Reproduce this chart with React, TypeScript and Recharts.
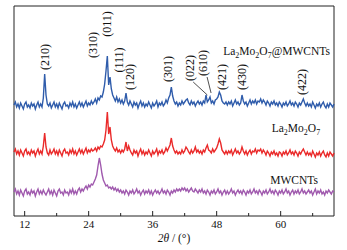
import React from "react";
import { LineChart, Line, XAxis, YAxis, ReferenceArea, ReferenceDot, ReferenceLine } from "recharts";

// 2θ sampling: 10° to 70° every 0.25°
const startAngle = 10;
const stepAngle = 0.25;

// intensities (stacked, arbitrary units)
const composite = [
  111, 114, 109, 112, 108, 113, 110, 107, 112, 114, 109, 111, 108, 113, 110, 112, 107, 111, 114, 109,
  112, 109, 118, 142, 121, 112, 110, 113, 108, 111, 114, 109, 112, 108, 113, 110, 107, 112, 114, 110,
  111, 108, 113, 110, 114, 109, 112, 108, 111, 114, 110, 113, 109, 112, 115, 110, 113, 111, 115, 112,
  114, 117, 113, 118, 116, 120, 119, 124, 132, 145, 160, 131, 139, 127, 121, 118, 115, 119, 114, 117,
  113, 116, 112, 115, 123, 114, 111, 115, 112, 109, 114, 111, 113, 108, 112, 115, 110, 113, 109, 112,
  110, 114, 111, 108, 113, 110, 112, 115, 109, 113, 111, 114, 110, 112, 116, 113, 118, 121, 129, 120,
  115, 112, 114, 110, 113, 111, 115, 112, 114, 116, 117, 113, 111, 115, 112, 114, 110, 113, 115, 112,
  114, 111, 115, 113, 121, 114, 116, 119, 113, 115, 112, 116, 117, 119, 124, 121, 115, 113, 112, 114,
  111, 114, 112, 115, 110, 113, 116, 112, 114, 111, 113, 121, 115, 112, 114, 110, 113, 116, 112, 115,
  113, 116, 112, 115, 114, 117, 113, 116, 114, 111, 115, 113, 110, 114, 112, 115, 111, 113, 110, 114,
  112, 109, 113, 111, 114, 110, 112, 115, 111, 113, 110, 114, 112, 109, 113, 111, 114, 117, 113, 110,
  113, 110, 112, 109, 114, 111, 108, 112, 110, 113, 109, 112, 114, 110, 108, 112, 109, 113, 111, 109,
  112,
];

const pure = [
  64, 67, 62, 65, 61, 66, 63, 60, 65, 67, 62, 64, 61, 66, 63, 65, 60, 64, 67, 62,
  65, 62, 70, 83, 69, 63, 61, 66, 62, 64, 67, 62, 65, 61, 66, 63, 60, 65, 67, 63,
  64, 61, 66, 63, 67, 62, 65, 61, 64, 67, 63, 66, 62, 65, 68, 63, 66, 64, 67, 65,
  66, 68, 65, 69, 67, 70, 69, 72, 76, 86, 104, 82, 89, 76, 70, 67, 65, 68, 64, 66,
  63, 66, 64, 67, 74, 65, 70, 66, 63, 61, 66, 63, 65, 60, 64, 67, 62, 65, 61, 64,
  62, 66, 63, 60, 65, 62, 64, 67, 61, 65, 63, 66, 62, 64, 68, 65, 68, 71, 78, 70,
  66, 63, 65, 62, 64, 62, 66, 63, 65, 69, 67, 64, 62, 66, 63, 65, 69, 64, 66, 63,
  65, 62, 66, 64, 68, 71, 66, 65, 63, 67, 64, 66, 68, 72, 77, 73, 66, 64, 62, 65,
  62, 65, 63, 66, 61, 64, 67, 63, 65, 62, 64, 69, 65, 62, 65, 61, 64, 66, 62, 65,
  64, 67, 63, 66, 65, 67, 63, 66, 64, 61, 65, 63, 60, 64, 62, 65, 61, 63, 60, 64,
  63, 60, 64, 62, 65, 61, 63, 66, 62, 64, 61, 65, 63, 60, 64, 62, 65, 67, 64, 61,
  64, 61, 63, 60, 65, 62, 59, 63, 61, 64, 60, 63, 65, 61, 59, 63, 60, 64, 62, 60,
  63,
];

const nanotubes = [
  24, 27, 22, 25, 21, 26, 23, 20, 25, 27, 22, 24, 21, 26, 23, 25, 20, 24, 27, 22,
  25, 22, 26, 23, 21, 24, 27, 22, 25, 21, 26, 23, 20, 25, 27, 23, 24, 21, 26, 23,
  24, 21, 26, 23, 27, 22, 25, 22, 26, 28, 24, 27, 25, 28, 30, 27, 31, 29, 32, 31,
  34, 37, 41, 50, 58, 51, 42, 36, 33, 30, 31, 28, 29, 27, 29, 26, 28, 25, 27, 24,
  26, 23, 25, 22, 26, 24, 21, 25, 23, 26, 22, 24, 27, 23, 25, 21, 24, 26, 22, 25,
  23, 26, 22, 25, 21, 24, 26, 23, 25, 22, 24, 27, 23, 25, 22, 26, 24, 21, 25, 23,
  26, 24, 27, 25, 27, 25, 28, 26, 28, 25, 27, 24, 26, 28, 25, 24, 27, 25, 23, 26,
  24, 27, 23, 25, 22, 26, 24, 21, 25, 23, 26, 22, 24, 27, 23, 25, 21, 24, 26, 22,
  25, 22, 24, 27, 23, 25, 21, 24, 26, 23, 25, 22, 26, 24, 21, 25, 23, 26, 22, 24,
  27, 23, 25, 22, 26, 24, 21, 25, 23, 26, 22, 24, 27, 23, 25, 22, 26, 24, 21, 25,
  23, 26, 22, 24, 27, 23, 25, 21, 24, 26, 22, 25, 23, 26, 22, 24, 27, 23, 25, 22,
  24, 26, 23, 25, 21, 24, 27, 22, 25, 23, 26, 22, 24, 21, 25, 23, 26, 24, 22, 25,
  24,
];

const majorTicks = [12, 24, 36, 48, 60];
const allTicks = [12, 18, 24, 30, 36, 42, 48, 54, 60, 66];

// Miller indices: angle, height (centre of the rotated text)
const peakLabels = [
  { text: "(210)", x: 15.8, y: 159 },
  { text: "(310)", x: 24.8, y: 171 },
  { text: "(011)", x: 27.5, y: 192 },
  { text: "(111)", x: 29.7, y: 156 },
  { text: "(120)", x: 31.75, y: 139 },
  { text: "(301)", x: 38.9, y: 147 },
  { text: "(022)", x: 43.0, y: 148 },
  { text: "(610)", x: 45.4, y: 153 },
  { text: "(421)", x: 49.0, y: 139 },
  { text: "(430)", x: 52.75, y: 139 },
  { text: "(422)", x: 64.0, y: 134 },
];

const leaders = [
  [{ x: 43.6, y: 134 }, { x: 46.25, y: 121 }],
  [{ x: 46.2, y: 139 }, { x: 46.95, y: 123 }],
];

const seriesNames = [
  { parts: ["La", "2", "Mo", "2", "O", "7", "@MWCNTs"], x: 69.25, y: 161 },
  { parts: ["La", "2", "Mo", "2", "O", "7"], x: 67.4, y: 84 },
  { parts: ["MWCNTs"], x: 67.0, y: 32 },
];

const chartData = composite.map((v, i) => ({
  angle: startAngle + i * stepAngle,
  composite: v,
  pure: pure[i],
  nanotubes: nanotubes[i],
}));

const serif = "'Liberation Serif', 'DejaVu Serif', serif";

const AngleTick = ({ x, y, payload }: any) => {
  const major = majorTicks.includes(payload.value);
  return (
    <g>
      <line x1={x} x2={x} y1={y} y2={y - (major ? 5 : 3)} stroke="#222" strokeWidth={1} />
      {major && (
        <text x={x} y={y + 12} textAnchor="middle" fontSize={11} fontFamily={serif} fill="#111">
          {payload.value}
        </text>
      )}
    </g>
  );
};

const AxisTitle = ({ viewBox }: any) => {
  const { x, y, width } = viewBox;
  return (
    <text x={x + width / 2} y={y + 26} textAnchor="middle" fontSize={11.5} fontFamily={serif} fill="#111">
      <tspan fontStyle="italic">2θ</tspan> / (°)
    </text>
  );
};

const PeakText = (text: string) => (props: any) => {
  const { cx, cy } = props;
  return (
    <text
      x={cx}
      y={cy}
      transform={`rotate(-90 ${cx} ${cy})`}
      textAnchor="middle"
      dominantBaseline="central"
      fontSize={12}
      fontFamily={serif}
      fill="#111"
    >
      {text}
    </text>
  );
};

const NameText = (parts: string[]) => (props: any) => {
  const { cx, cy } = props;
  let sub = false;
  return (
    <text x={cx} y={cy} textAnchor="end" fontSize={11.5} fontFamily={serif} fill="#111">
      {parts.map((p, i) => {
        const isDigit = /^\d$/.test(p);
        let dy = 0;
        if (isDigit && !sub) { dy = 3; sub = true; }
        else if (!isDigit && sub) { dy = -3; sub = false; }
        return (
          <tspan key={i} dy={dy} fontSize={isDigit ? 8 : 11.5}>
            {p}
          </tspan>
        );
      })}
    </text>
  );
};

export default function App() {
  return (
    <div style={{ position: "absolute", left: 0, top: 0, background: "#fff" }}>
      <LineChart width={347} height={250} data={chartData} margin={{ top: 6, right: 13, left: 14, bottom: 0 }}>
        <XAxis
          dataKey="angle"
          type="number"
          domain={[10, 70]}
          ticks={allTicks}
          interval={0}
          height={34}
          tickSize={0}
          tickMargin={0}
          tickLine={false}
          axisLine={false}
          tick={<AngleTick />}
          label={<AxisTitle />}
        />
        <YAxis type="number" domain={[0, 210]} hide />
        <ReferenceArea x1={10} x2={70} y1={0} y2={210} fill="none" stroke="#222" strokeWidth={1} ifOverflow="visible" />
        <Line type="linear" dataKey="nanotubes" stroke="#a05aae" strokeWidth={1.4} dot={false} isAnimationActive={false} />
        <Line type="linear" dataKey="pure" stroke="#ea2a2a" strokeWidth={1.4} dot={false} isAnimationActive={false} />
        <Line type="linear" dataKey="composite" stroke="#2f5cab" strokeWidth={1.4} dot={false} isAnimationActive={false} />
        {leaders.map((seg, i) => (
          <ReferenceLine key={i} segment={seg} stroke="#222" strokeWidth={0.8} ifOverflow="visible" />
        ))}
        {peakLabels.map((p) => (
          <ReferenceDot key={p.text} x={p.x} y={p.y} r={0} ifOverflow="visible" shape={PeakText(p.text)} />
        ))}
        {seriesNames.map((s, i) => (
          <ReferenceDot key={i} x={s.x} y={s.y} r={0} ifOverflow="visible" shape={NameText(s.parts)} />
        ))}
      </LineChart>
    </div>
  );
}
